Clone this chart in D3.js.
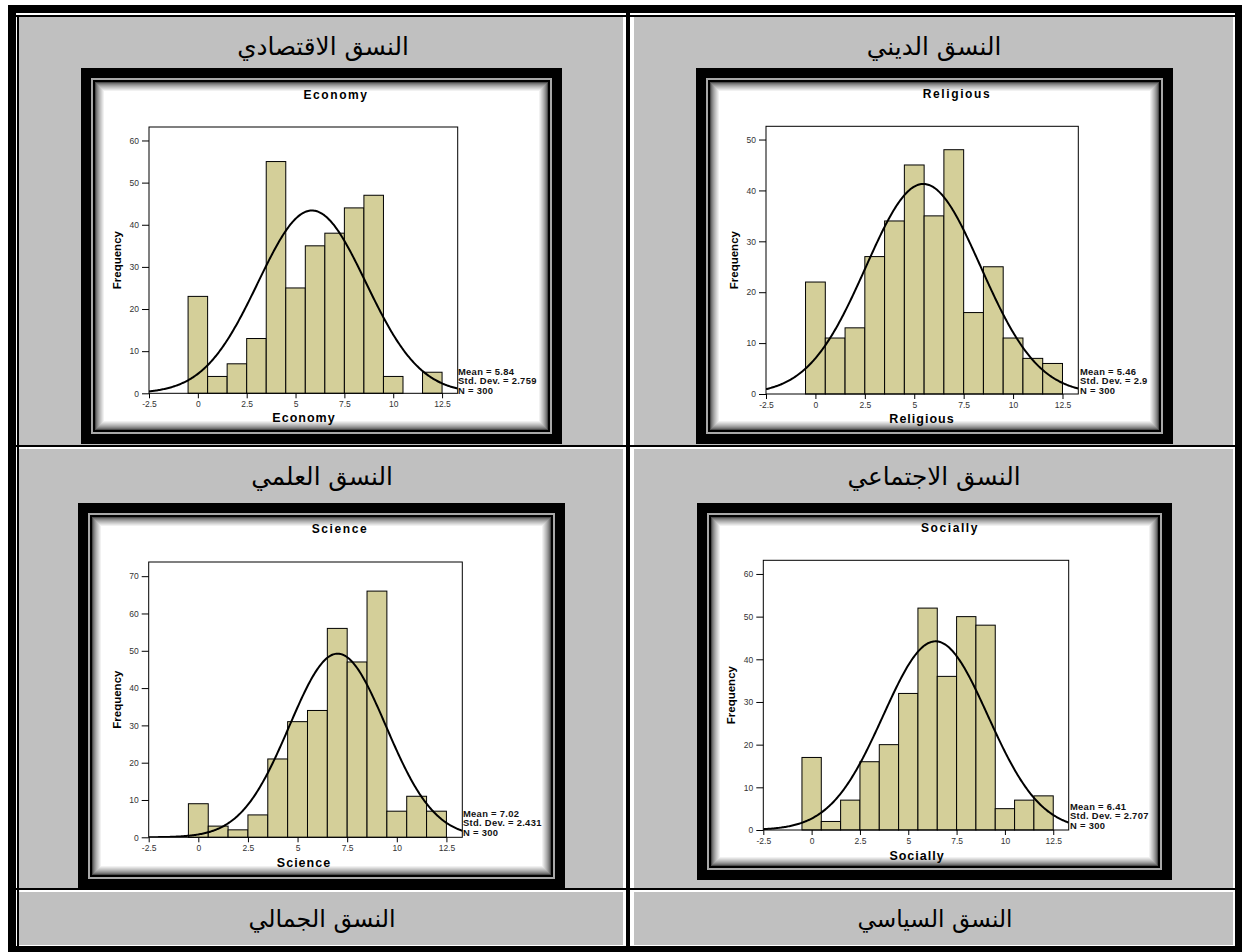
<!DOCTYPE html>
<html><head><meta charset="utf-8">
<script src="https://cdn.jsdelivr.net/npm/d3@7"></script>
<style>body{margin:0;background:#fff}svg{display:block}</style>
</head><body><svg id="c" width="1242" height="952"></svg>
<script>
// ---------- data ----------
const bins = [0,1,2,3,4,5,6,7,8,9,10,11,12];
const economyCounts   = [23,4,7,13,55,25,35,38,44,47,4,0,5];
const religiousCounts = [22,11,13,27,34,45,35,48,16,25,11,7,6];
const scienceCounts   = [9,3,2,6,21,31,34,56,47,66,7,11,7];
const sociallyCounts  = [17,2,7,16,20,32,52,36,50,48,5,7,8];
const chartTitles = ["Economy","Religious","Science","Socially"];
const means = [5.84,5.46,7.02,6.41];
const stdDevs = [2.759,2.9,2.431,2.707];
const sampleSizes = [300,300,300,300];
const meanLabels = ["5.84","5.46","7.02","6.41"];
const sdLabels = ["2.759","2.9","2.431","2.707"];
const xTicks = [-2.5,0,2.5,5,7.5,10,12.5];
const xTickLabels = ["-2.5","0","2.5","5","7.5","10","12.5"];
const yTicksEconomy = [0,10,20,30,40,50,60];
const yTicksReligious = [0,10,20,30,40,50];
const yTicksScience = [0,10,20,30,40,50,60,70];
const yTicksSocially = [0,10,20,30,40,50,60];
const yMaxes = [63.2,52.6,73.8,63.2];
const xDomain = [-2.5,13.3];
const cellLabels = ["النسق الاقتصادي","النسق الديني","النسق العلمي","النسق الاجتماعي","النسق الجمالي","النسق السياسي"];

// ---------- layout ----------
const svg = d3.select("#c");
const gray = "#c0c0c0";
svg.append("rect").attr("width",1242).attr("height",952).attr("fill","#fff");
svg.append("rect").attr("x",8).attr("y",5).attr("width",1250).attr("height",960).attr("fill","#000");
svg.append("rect").attr("x",16).attr("y",13).attr("width",1219).attr("height",933).attr("fill","#fff");
const blk = [[16,15,1219,2],[17,15,2,931],[16,445,1219,2],[16,888,1219,2],[626,13,4,933]];
blk.forEach(b=>svg.append("rect").attr("x",b[0]).attr("y",b[1]).attr("width",b[2]).attr("height",b[3]).attr("fill","#000"));
const cols = [[19,623],[634,1233]];
const rows = [[17,445],[449,888],[892,945]];
rows.forEach(r=>cols.forEach(c=>svg.append("rect").attr("x",c[0]).attr("y",r[0]).attr("width",c[1]-c[0]).attr("height",r[1]-r[0]).attr("fill",gray)));

const labelPos = [[323,55],[934,55],[322,485],[934,485],[322,927],[935,927]];
const labelSize = [24.7,24.7,24.7,24.7,23.8,23.2];
cellLabels.forEach((t,i)=>svg.append("text").attr("x",labelPos[i][0]).attr("y",labelPos[i][1])
  .attr("text-anchor","middle").attr("direction","rtl").attr("font-family","DejaVu Sans, sans-serif")
  .attr("font-size",labelSize[i]).attr("fill","#000").text(t));

const panels = [
 {counts:economyCounts, yt:yTicksEconomy, frame:[81,68,562,444], plot:[149,127,457.7,393.3], title:[336,99], xlab:[304,422], stats:[458,375]},
 {counts:religiousCounts, yt:yTicksReligious, frame:[696,68,1173,444], plot:[766,126.3,1078.3,394], title:[957,98], xlab:[922,423], stats:[1080,375]},
 {counts:scienceCounts, yt:yTicksScience, frame:[78,503,565,889], plot:[148.7,562,462.3,837.3], title:[340,533], xlab:[304,867], stats:[463,817]},
 {counts:sociallyCounts, yt:yTicksSocially, frame:[697,503,1172,880], plot:[763.3,560.3,1068.7,830], title:[950,532], xlab:[917,860], stats:[1070,810]},
];

const font = "Liberation Sans, Arial, sans-serif";
panels.forEach((p,k)=>{
  const g = svg.append("g");
  const [x0,y0,x1,y1] = p.frame;
  g.append("rect").attr("x",x0).attr("y",y0).attr("width",x1-x0).attr("height",y1-y0).attr("fill","#000");
  g.append("rect").attr("x",x0+11).attr("y",y0+11).attr("width",x1-x0-22).attr("height",y1-y0-22).attr("fill","none").attr("stroke","#a8a8a8").attr("stroke-width",2);
  const ii = 14;
  g.append("rect").attr("x",x0+ii).attr("y",y0+ii).attr("width",x1-x0-2*ii).attr("height",y1-y0-2*ii).attr("fill","#fff");
  const sh = d3.interpolateRgb("#4a4a4a","#ffffff");
  for(let i=0;i<10;i++){
    const t = Math.pow(i/9,0.7);
    g.append("rect").attr("x",x0+ii+i+0.5).attr("y",y0+ii+i+0.5).attr("width",x1-x0-2*(ii+i)-1).attr("height",y1-y0-2*(ii+i)-1)
     .attr("fill","none").attr("stroke",sh(t)).attr("stroke-width",1);
  }
  const [px0,py0,px1,py1] = p.plot;
  const x = d3.scaleLinear().domain(xDomain).range([px0,px1]);
  const y = d3.scaleLinear().domain([0,yMaxes[k]]).range([py1,py0]);
  g.append("rect").attr("x",px0).attr("y",py0).attr("width",px1-px0).attr("height",py1-py0).attr("fill","#fff");
  g.append("g").selectAll("rect").data(bins.map((b,i)=>({b,c:p.counts[i]})).filter(d=>d.c>0)).join("rect")
   .attr("x",d=>x(d.b-0.5)).attr("width",d=>x(d.b+0.5)-x(d.b-0.5)).attr("y",d=>y(d.c)).attr("height",d=>y(0)-y(d.c))
   .attr("fill","#d4cf99").attr("stroke","#000").attr("stroke-width",1);
  const clipId="clip"+k;
  g.append("clipPath").attr("id",clipId).append("rect").attr("x",px0).attr("y",py0).attr("width",px1-px0).attr("height",py1-py0);
  const pts=[];
  for(let v=xDomain[0]; v<=xDomain[1]+1e-9; v+=0.05){
    const z=(v-means[k])/stdDevs[k];
    pts.push([v, sampleSizes[k]*Math.exp(-0.5*z*z)/(stdDevs[k]*Math.sqrt(2*Math.PI))]);
  }
  g.append("path").attr("d",d3.line().x(d=>x(d[0])).y(d=>y(d[1]))(pts)).attr("fill","none").attr("stroke","#000").attr("stroke-width",2).attr("clip-path",`url(#${clipId})`);
  g.append("rect").attr("x",px0).attr("y",py0).attr("width",px1-px0).attr("height",py1-py0).attr("fill","none").attr("stroke","#000").attr("stroke-width",1);
  const ax = g.append("g").attr("transform",`translate(0,${py1})`).call(d3.axisBottom(x).tickValues(xTicks).tickFormat((d,i)=>xTickLabels[i]).tickSize(5).tickPadding(3));
  const ay = g.append("g").attr("transform",`translate(${px0},0)`).call(d3.axisLeft(y).tickValues(p.yt).tickSize(7).tickPadding(3));
  [ax,ay].forEach(a=>{a.select(".domain").remove();a.selectAll("text").attr("font-family",font).attr("font-size",8.5).attr("fill","#333");a.selectAll("line").attr("stroke","#000");});
  g.append("text").attr("x",p.title[0]).attr("y",p.title[1]).attr("text-anchor","middle").attr("font-family",font).attr("font-weight","bold").attr("font-size",12).attr("letter-spacing",1.6).text(chartTitles[k]);
  g.append("text").attr("x",p.xlab[0]).attr("y",p.xlab[1]).attr("text-anchor","middle").attr("font-family",font).attr("font-weight","bold").attr("font-size",12.5).attr("letter-spacing",1).text(chartTitles[k]);
  const fy=(py0+py1)/2, fx=px0-28;
  g.append("text").attr("transform",`translate(${fx},${fy}) rotate(-90)`).attr("text-anchor","middle").attr("font-family",font).attr("font-weight","bold").attr("font-size",11.5).text("Frequency");
  const st=[`Mean = ${meanLabels[k]}`,`Std. Dev. = ${sdLabels[k]}`,`N = ${sampleSizes[k]}`];
  st.forEach((s,i)=>g.append("text").attr("x",p.stats[0]).attr("y",p.stats[1]+i*9.3).attr("font-family",font).attr("font-weight","bold").attr("font-size",9.4).attr("letter-spacing",0.3).attr("fill","#111").text(s));
});
</script></body></html>
